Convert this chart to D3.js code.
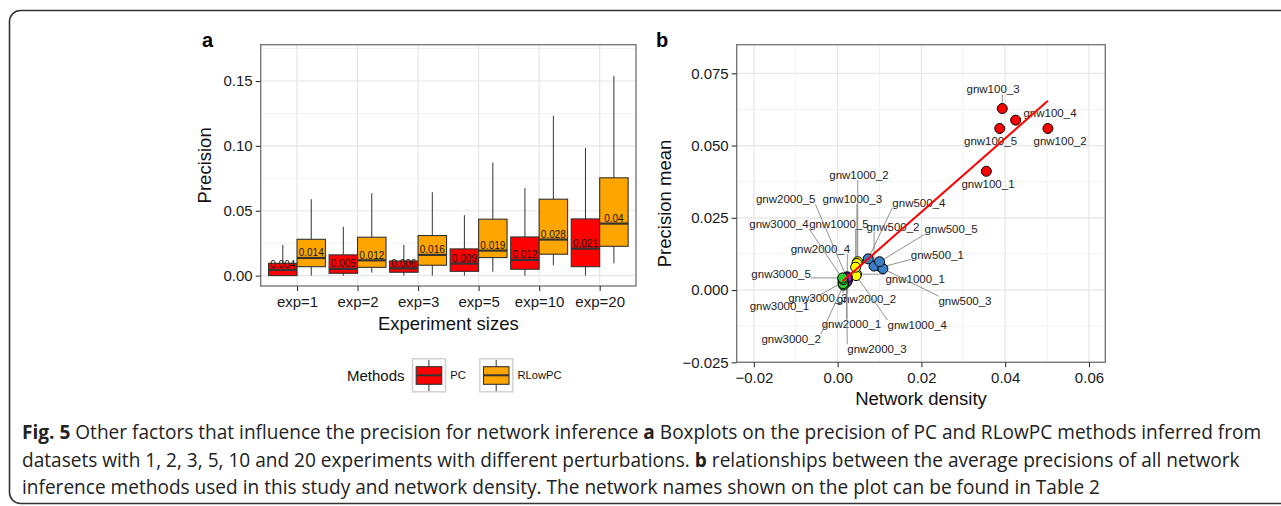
<!doctype html>
<html lang="en">
<head>
<meta charset="UTF-8">
<title>Fig. 5</title>
<script src="https://d3js.org/d3.v7.min.js"></script>
<style>
  body { margin: 0; background: #fff; }
  svg text { font-family: "Liberation Sans", Arial, Helvetica, sans-serif; }
</style>
</head>
<body>
<script>

  // ---- panel a : boxplots ----
  var expSizes = ["exp=1", "exp=2", "exp=3", "exp=5", "exp=10", "exp=20"];
  var methods = ["PC", "RLowPC"];
  var methodColors = ["#ff0000", "#ffa500"];
  // [lower whisker, q1, median, q3, upper whisker]
  var pcStats = [
    [0, 0, 0.0044, 0.0095, 0.0237],
    [0, 0.0018, 0.0052, 0.0160, 0.0376],
    [0, 0.0026, 0.0056, 0.0113, 0.0237],
    [0, 0.0033, 0.0093, 0.0206, 0.0466],
    [0, 0.0049, 0.0121, 0.0298, 0.0674],
    [0, 0.0069, 0.0208, 0.0437, 0.0985]
  ];
  var rlowpcStats = [
    [0, 0.0069, 0.0136, 0.0280, 0.0589],
    [0.0023, 0.0064, 0.0118, 0.0296, 0.0635],
    [0, 0.0080, 0.0160, 0.0309, 0.0643],
    [0.0030, 0.0139, 0.0193, 0.0435, 0.0872],
    [0.0080, 0.0165, 0.0278, 0.0589, 0.1232],
    [0.0095, 0.0226, 0.0401, 0.0754, 0.1540]
  ];
  var precisionTicks = [0, 0.05, 0.10, 0.15];

  // ---- panel b : density vs precision ----
  var networks = [
    "gnw100_1", "gnw100_2", "gnw100_3", "gnw100_4", "gnw100_5",
    "gnw500_1", "gnw500_2", "gnw500_3", "gnw500_4", "gnw500_5",
    "gnw1000_1", "gnw1000_2", "gnw1000_3", "gnw1000_4", "gnw1000_5",
    "gnw2000_1", "gnw2000_2", "gnw2000_3", "gnw2000_4", "gnw2000_5",
    "gnw3000_1", "gnw3000_2", "gnw3000_3", "gnw3000_4", "gnw3000_5"
  ];
  var density = [
    0.0355, 0.0502, 0.0393, 0.0425, 0.0387,
    0.0104, 0.0087, 0.0108, 0.0073, 0.0100,
    0.0045, 0.0048, 0.0046, 0.0044, 0.0043,
    0.0022, 0.0024, 0.0021, 0.0023, 0.0022,
    0.0013, 0.0014, 0.0013, 0.0013, 0.0012
  ];
  var precisionMean = [
    0.0411, 0.0559, 0.0628, 0.0588, 0.0559,
    0.0079, 0.0083, 0.0074, 0.0108, 0.0098,
    0.0055, 0.0098, 0.0092, 0.0050, 0.0079,
    0.0030, 0.0036, 0.0027, 0.0046, 0.0042,
    0.0028, 0.0017, 0.0022, 0.0036, 0.0042
  ];
  var sizeGroups = ["gnw100", "gnw500", "gnw1000", "gnw2000", "gnw3000"];
  var groupColors = ["#ff0000", "#3a80c8", "#ffff00", "#9a20c8", "#33cc33"];
  // repelled label positions (data units)
  var labelX = [
    0.0359, 0.0531, 0.0371, 0.0507, 0.0365,
    0.0238, 0.0132, 0.0304, 0.0194, 0.0271,
    0.0185, 0.0051, 0.0035, 0.0190, 0.0003,
    0.0033, 0.0069, 0.0094, -0.0041, -0.0124,
    -0.0139, -0.0111, -0.0047, -0.0140, -0.0135
  ];
  var labelY = [
    0.0367, 0.0515, 0.0694, 0.0611, 0.0515,
    0.0123, 0.0219, -0.0038, 0.0302, 0.0210,
    0.0038, 0.0398, 0.0314, -0.0121, 0.0228,
    -0.0118, -0.0030, -0.0205, 0.0142, 0.0314,
    -0.0055, -0.0170, -0.0027, 0.0228, 0.0056
  ];
  var fitSlope = 1.274, fitIntercept = 0.00155;
  var densityTicks = [-0.02, 0, 0.02, 0.04, 0.06];
  var meanTicks = [-0.025, 0, 0.025, 0.05, 0.075];

  var captionLines = [
    [["Fig. 5", true], [" Other factors that influence the precision for network inference ", false], ["a", true], [" Boxplots on the precision of PC and RLowPC methods inferred from", false]],
    [["datasets with 1, 2, 3, 5, 10 and 20 experiments with different perturbations. ", false], ["b", true], [" relationships between the average precisions of all network", false]],
    [["inference methods used in this study and network density. The network names shown on the plot can be found in Table 2", false]]
  ];

  var svg = d3.select("body").append("svg")
      .attr("width", 1281).attr("height", 506);

  svg.append("rect")
      .attr("x", 9.5).attr("y", 10.5)
      .attr("width", 1320).attr("height", 493)
      .attr("rx", 11).attr("ry", 11)
      .attr("fill", "none").attr("stroke", "#333").attr("stroke-width", 1.6);

  function panelFrame (g, x0, y0, x1, y1) {
    g.append("rect").attr("x", x0).attr("y", y0)
      .attr("width", x1 - x0).attr("height", y1 - y0).attr("fill", "#fff");
  }

  function border (g, x0, y0, x1, y1) {
    g.append("rect").attr("x", x0).attr("y", y0)
      .attr("width", x1 - x0).attr("height", y1 - y0)
      .attr("fill", "none").attr("stroke", "#7a7a7a").attr("stroke-width", 1.4);
  }

  function styleAxis (ax) {
    ax.select(".domain").remove();
    ax.selectAll(".tick line").attr("stroke", "#333").attr("stroke-width", 1.1);
    ax.selectAll(".tick text").attr("fill", "#1a1a1a").style("font-size", "15px");
  }

  // ---------- panel a ----------
  var ax0 = 260.7, ax1 = 636, ay0 = 44.7, ay1 = 286;
  var xa = d3.scalePoint().domain(expSizes).range([ax0, ax1]).padding(0.6);
  var ya = d3.scaleLinear().domain([-0.008, 0.178]).range([ay1, ay0]);
  var ga = svg.append("g");
  panelFrame(ga, ax0, ay0, ax1, ay1);

  var minorA = d3.range(0.025, 0.18, 0.05);
  ga.selectAll(".minor").data(minorA).enter().append("line")
      .attr("x1", ax0).attr("x2", ax1)
      .attr("y1", function (d) { return ya(d); }).attr("y2", function (d) { return ya(d); })
      .attr("stroke", "#f2f2f2").attr("stroke-width", 1);
  ga.selectAll(".majorY").data(precisionTicks).enter().append("line")
      .attr("x1", ax0).attr("x2", ax1)
      .attr("y1", function (d) { return ya(d); }).attr("y2", function (d) { return ya(d); })
      .attr("stroke", "#e6e6e6").attr("stroke-width", 1.2);
  ga.selectAll(".majorX").data(expSizes).enter().append("line")
      .attr("y1", ay0).attr("y2", ay1)
      .attr("x1", function (d) { return xa(d); }).attr("x2", function (d) { return xa(d); })
      .attr("stroke", "#e6e6e6").attr("stroke-width", 1.2);

  var boxW = xa.step() * 0.47;
  var boxes = [];
  expSizes.forEach(function (e, i) {
    boxes.push({ exp: e, m: 0, s: pcStats[i] });
    boxes.push({ exp: e, m: 1, s: rlowpcStats[i] });
  });

  var bg = ga.selectAll(".box").data(boxes).enter().append("g");
  function bx (d) { return xa(d.exp) + (d.m === 0 ? -boxW : 0); }
  bg.append("line")
      .attr("x1", function (d) { return bx(d) + boxW / 2; })
      .attr("x2", function (d) { return bx(d) + boxW / 2; })
      .attr("y1", function (d) { return ya(d.s[0]); })
      .attr("y2", function (d) { return ya(d.s[4]); })
      .attr("stroke", "#333").attr("stroke-width", 1);
  bg.append("rect")
      .attr("x", bx).attr("width", boxW)
      .attr("y", function (d) { return ya(d.s[3]); })
      .attr("height", function (d) { return ya(d.s[1]) - ya(d.s[3]); })
      .attr("fill", function (d) { return methodColors[d.m]; })
      .attr("stroke", "#333").attr("stroke-width", 1.1);
  bg.append("line")
      .attr("x1", bx).attr("x2", function (d) { return bx(d) + boxW; })
      .attr("y1", function (d) { return ya(d.s[2]); })
      .attr("y2", function (d) { return ya(d.s[2]); })
      .attr("stroke", "#333").attr("stroke-width", 2.2);
  bg.append("text")
      .attr("x", function (d) { return bx(d) + boxW / 2; })
      .attr("y", function (d) { return ya(d.s[2]) - 1.5; })
      .attr("text-anchor", "middle")
      .style("font-size", "10px").attr("fill", "#111")
      .text(function (d) { return String(Math.round(d.s[2] * 1000) / 1000); });

  border(ga, ax0, ay0, ax1, ay1);

  var yAxA = ga.append("g").attr("transform", "translate(" + ax0 + ",0)")
      .call(d3.axisLeft(ya).tickValues(precisionTicks).tickSize(5).tickPadding(3)
        .tickFormat(d3.format(".2f")));
  styleAxis(yAxA);
  var xAxA = ga.append("g").attr("transform", "translate(0," + ay1 + ")")
      .call(d3.axisBottom(xa).tickSize(5).tickPadding(5));
  styleAxis(xAxA);

  ga.append("text").attr("x", (ax0 + ax1) / 2).attr("y", 330)
      .attr("text-anchor", "middle").style("font-size", "18.5px").attr("fill", "#111")
      .text("Experiment sizes");
  ga.append("text").attr("transform", "translate(211," + (ay0 + ay1) / 2 + ") rotate(-90)")
      .attr("text-anchor", "middle").style("font-size", "18.5px").attr("fill", "#111")
      .text("Precision");
  ga.append("text").attr("x", 202).attr("y", 47)
      .style("font-size", "20px").style("font-weight", "bold").text("a");

  // legend
  var lg = svg.append("g");
  lg.append("text").attr("x", 347).attr("y", 380.5)
      .style("font-size", "15px").attr("fill", "#111").text("Methods");
  var keyX = [411.7, 479];
  methods.forEach(function (m, i) {
    var k = lg.append("g").attr("transform", "translate(" + keyX[i] + ",358)");
    k.append("rect").attr("x", 0.8).attr("y", 0.8).attr("width", 33).attr("height", 33)
        .attr("fill", "#fff").attr("stroke", "#d4d4d4").attr("stroke-width", 1.6);
    k.append("line").attr("x1", 17.2).attr("x2", 17.2).attr("y1", 2).attr("y2", 33)
        .attr("stroke", "#333").attr("stroke-width", 1);
    k.append("rect").attr("x", 4.5).attr("y", 8.7).attr("width", 25.5).attr("height", 17.6)
        .attr("fill", methodColors[i]).attr("stroke", "#333").attr("stroke-width", 1.1);
    k.append("line").attr("x1", 4.5).attr("x2", 30).attr("y1", 17.3).attr("y2", 17.3)
        .attr("stroke", "#333").attr("stroke-width", 2);
    lg.append("text").attr("x", keyX[i] + 38.5).attr("y", 379)
        .style("font-size", "11.2px").attr("fill", "#111").text(m);
  });

  // ---------- panel b ----------
  var bx0 = 736.7, bx1 = 1105.3, by0 = 44.7, by1 = 362.3;
  var xb = d3.scaleLinear().domain([-0.0241, 0.0639]).range([bx0, bx1]);
  var yb = d3.scaleLinear().domain([-0.025, 0.0849]).range([by1, by0]);
  var gb = svg.append("g");
  panelFrame(gb, bx0, by0, bx1, by1);

  var minorBX = [-0.03, -0.01, 0.01, 0.03, 0.05];
  var minorBY = [-0.0125, 0.0125, 0.0375, 0.0625];
  gb.selectAll(".mx").data(minorBX).enter().append("line")
      .attr("y1", by0).attr("y2", by1)
      .attr("x1", function (d) { return xb(d); }).attr("x2", function (d) { return xb(d); })
      .attr("stroke", "#f2f2f2").attr("stroke-width", 1)
      .style("display", function (d) { return xb(d) < bx0 ? "none" : null; });
  gb.selectAll(".my").data(minorBY).enter().append("line")
      .attr("x1", bx0).attr("x2", bx1)
      .attr("y1", function (d) { return yb(d); }).attr("y2", function (d) { return yb(d); })
      .attr("stroke", "#f2f2f2").attr("stroke-width", 1);
  gb.selectAll(".Mx").data(densityTicks).enter().append("line")
      .attr("y1", by0).attr("y2", by1)
      .attr("x1", function (d) { return xb(d); }).attr("x2", function (d) { return xb(d); })
      .attr("stroke", "#e6e6e6").attr("stroke-width", 1.2);
  gb.selectAll(".My").data(meanTicks).enter().append("line")
      .attr("x1", bx0).attr("x2", bx1)
      .attr("y1", function (d) { return yb(d); }).attr("y2", function (d) { return yb(d); })
      .attr("stroke", "#e6e6e6").attr("stroke-width", 1.2);

  var pts = networks.map(function (n, i) {
    return {
      name: n, x: density[i], y: precisionMean[i],
      lx: labelX[i], ly: labelY[i],
      color: groupColors[sizeGroups.indexOf(n.split("_")[0])]
    };
  });

  // labels first so we can measure them for the segments
  var labG = gb.append("g");
  var segG = gb.append("g");
  var ptG = gb.append("g");
  var r = 5;
  labG.selectAll("text").data(pts).enter().append("text")
      .attr("x", function (d) { return xb(d.lx); })
      .attr("y", function (d) { return yb(d.ly); })
      .attr("text-anchor", "middle").attr("dominant-baseline", "central")
      .style("font-size", "11.5px").attr("fill", "#222")
      .text(function (d) { return d.name; })
      .each(function (d) { d.bb = this.getBBox(); });

  pts.forEach(function (d) {
    var px = xb(d.x), py = yb(d.y), b = d.bb;
    var qx = Math.max(b.x, Math.min(px, b.x + b.width));
    var qy = Math.max(b.y + 1, Math.min(py, b.y + b.height - 1));
    var len = Math.hypot(qx - px, qy - py);
    if (len < 8) return;
    segG.append("line")
        .attr("x1", px + (qx - px) / len * r).attr("y1", py + (qy - py) / len * r)
        .attr("x2", qx).attr("y2", qy)
        .attr("stroke", "#777").attr("stroke-width", 0.8);
  });

  ptG.selectAll("circle").data(pts).enter().append("circle")
      .attr("cx", function (d) { return xb(d.x); })
      .attr("cy", function (d) { return yb(d.y); })
      .attr("r", r)
      .attr("fill", function (d) { return d.color; })
      .attr("stroke", "#000").attr("stroke-width", 1);

  var dExt = d3.extent(density);
  gb.append("line")
      .attr("x1", xb(dExt[0])).attr("y1", yb(fitIntercept + fitSlope * dExt[0]))
      .attr("x2", xb(dExt[1])).attr("y2", yb(fitIntercept + fitSlope * dExt[1]))
      .attr("stroke", "#ff0000").attr("stroke-width", 2);

  border(gb, bx0, by0, bx1, by1);

  var yAxB = gb.append("g").attr("transform", "translate(" + bx0 + ",0)")
      .call(d3.axisLeft(yb).tickValues(meanTicks).tickSize(5).tickPadding(3)
        .tickFormat(function (d) { return d3.format(".3f")(d).replace("-", "\u2212"); }));
  styleAxis(yAxB);
  var xAxB = gb.append("g").attr("transform", "translate(0," + by1 + ")")
      .call(d3.axisBottom(xb).tickValues(densityTicks).tickSize(5).tickPadding(5)
        .tickFormat(function (d) { return d3.format(".2f")(d).replace("-", "\u2212"); }));
  styleAxis(xAxB);

  gb.append("text").attr("x", (bx0 + bx1) / 2).attr("y", 405)
      .attr("text-anchor", "middle").style("font-size", "18.5px").attr("fill", "#111")
      .text("Network density");
  gb.append("text").attr("transform", "translate(671," + (by0 + by1) / 2 + ") rotate(-90)")
      .attr("text-anchor", "middle").style("font-size", "18.5px").attr("fill", "#111")
      .text("Precision mean");
  gb.append("text").attr("x", 656).attr("y", 47)
      .style("font-size", "20px").style("font-weight", "bold").text("b");

  // ---------- caption ----------
  var capG = svg.append("g");
  var capBase = [439, 466.5, 494];
  var capFont = 16.5;
  var lines = captionLines.map(function (parts, i) {
    var t = capG.append("text").attr("x", 22).attr("y", capBase[i])
        .style("font-family", "'Open Sans', sans-serif")
        .style("font-size", capFont + "px").attr("fill", "#222");
    parts.forEach(function (p) {
      t.append("tspan").style("font-weight", p[1] ? "bold" : "normal").text(p[0]);
    });
    return t;
  });
  var w0 = lines[0].node().getComputedTextLength();
  var fs = capFont * 1240 / w0;
  lines.forEach(function (t) { t.style("font-size", fs + "px"); });

</script>
</body>
</html>
